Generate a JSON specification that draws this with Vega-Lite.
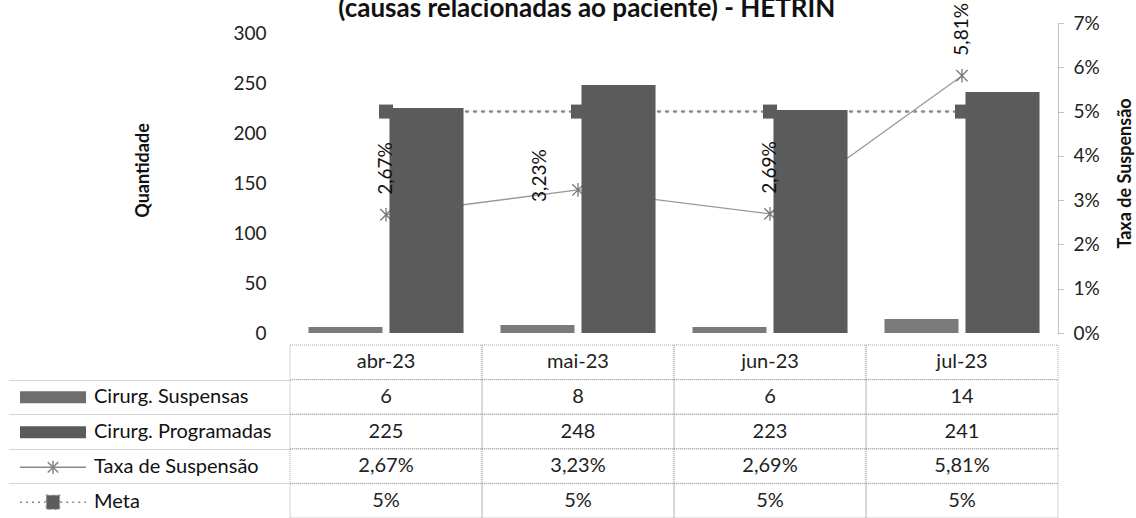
{
  "$schema": "https://vega.github.io/schema/vega-lite/v6.json",
  "autosize": {"type": "none"},
  "width": 768,
  "height": 495,
  "padding": {"left": 290, "top": 23, "right": 78, "bottom": 0},
  "background": "white",
  "title": {
    "text": "(causas relacionadas ao paciente) - HETRIN",
    "anchor": "middle",
    "frame": "bounds",
    "font": "Lato",
    "fontSize": 26,
    "fontWeight": "bold",
    "color": "#111111",
    "offset": -40,
    "dx": 16,
    "baseline": "alphabetic"
  },
  "data": {
    "values": [
      {"mes": "abr-23", "suspensas": 6, "programadas": 225, "taxa": 0.0267, "meta": 0.05},
      {"mes": "mai-23", "suspensas": 8, "programadas": 248, "taxa": 0.0323, "meta": 0.05},
      {"mes": "jun-23", "suspensas": 6, "programadas": 223, "taxa": 0.0269, "meta": 0.05},
      {"mes": "jul-23", "suspensas": 14, "programadas": 241, "taxa": 0.0581, "meta": 0.05}
    ]
  },
  "encoding": {
    "x": {
      "field": "mes",
      "type": "nominal",
      "sort": null,
      "scale": {"domain": ["abr-23", "mai-23", "jun-23", "jul-23"], "paddingInner": 0, "paddingOuter": 0},
      "axis": null
    }
  },
  "layer": [
    {
      "layer": [
        {
          "mark": {"type": "line", "color": "#8c8c8c", "strokeWidth": 2.5, "strokeDash": [2, 6], "strokeCap": "round"},
          "encoding": {
            "y": {
              "field": "meta",
              "type": "quantitative",
              "scale": {"domain": [0, 0.07], "range": [310, 0], "nice": false, "zero": true},
              "axis": {
                "orient": "right",
                "values": [0, 0.01, 0.02, 0.03, 0.04, 0.05, 0.06, 0.07],
                "format": ".0%",
                "title": "Taxa de Suspensão",
                "titleFont": "Lato",
                "titleFontSize": 18,
                "titleFontWeight": "bold",
                "titleColor": "#111111",
                "titleAngle": 270,
                "titleX": 67,
                "titleY": 150,
                "titleAlign": "center",
                "titleBaseline": "middle",
                "labelFont": "Lato",
                "labelFontSize": 19,
                "labelColor": "#222222",
                "labelPadding": 10,
                "labelFlush": false,
                "labelOverlap": false,
                "tickSize": 5,
                "tickColor": "#888888",
                "tickDash": [1, 1],
                "domainColor": "#888888",
                "domainDash": [1, 1],
                "grid": false
              }
            }
          }
        },
        {
          "mark": {"type": "point", "shape": "square", "filled": true, "size": 196, "color": "#5c5c5c", "opacity": 1},
          "encoding": {"y": {"field": "meta", "type": "quantitative"}}
        }
      ]
    },
    {
      "layer": [
        {
          "mark": {"type": "line", "color": "#9a9a9a", "strokeWidth": 1.3},
          "encoding": {
            "y": {
              "field": "taxa",
              "type": "quantitative",
              "scale": {"domain": [0, 0.07], "range": [310, 0], "nice": false, "zero": true},
              "axis": null
            }
          }
        },
        {
          "mark": {"type": "point", "shape": "M-1,-1L1,1M-1,1L1,-1M0,-1.2L0,1.2", "filled": false, "size": 130, "color": "#777777", "strokeWidth": 1.3, "opacity": 1},
          "encoding": {"y": {"field": "taxa", "type": "quantitative"}}
        }
      ]
    },
    {
      "transform": [{"fold": ["suspensas", "programadas"], "as": ["serie", "valor"]}],
      "mark": {"type": "bar"},
      "encoding": {
        "xOffset": {
          "field": "serie",
          "type": "nominal",
          "scale": {"domain": ["suspensas", "programadas"], "paddingInner": 0.086, "paddingOuter": 0.228}
        },
        "y": {
          "field": "valor",
          "type": "quantitative",
          "stack": null,
          "scale": {"domain": [0, 310], "range": [310, 0], "nice": false, "zero": true},
          "axis": {
            "orient": "left",
            "values": [0, 50, 100, 150, 200, 250, 300],
            "title": "Quantidade",
            "titleFont": "Lato",
            "titleFontSize": 18,
            "titleFontWeight": "bold",
            "titleColor": "#111111",
            "titleAngle": 270,
            "titleX": -147,
            "titleY": 147,
            "titleAlign": "center",
            "titleBaseline": "middle",
            "labelFont": "Lato",
            "labelFontSize": 19,
            "labelColor": "#222222",
            "labelPadding": 24,
            "labelFlush": false,
            "labelOverlap": false,
            "domain": false,
            "ticks": false,
            "grid": false
          }
        },
        "color": {
          "field": "serie",
          "type": "nominal",
          "scale": {"domain": ["suspensas", "programadas"], "range": ["#7b7b7b", "#5b5b5b"]},
          "legend": null
        }
      }
    },
    {
      "layer": [
        {
          "transform": [{"filter": "datum.mes != 'mai-23'"}],
          "mark": {"type": "text", "angle": 270, "align": "left", "baseline": "middle", "dx": 20, "fontSize": 19, "font": "Lato", "color": "#111111"},
          "encoding": {
            "y": {
              "field": "taxa",
              "type": "quantitative",
              "scale": {"domain": [0, 0.07], "range": [310, 0], "nice": false, "zero": true},
              "axis": null
            },
            "text": {"field": "taxa", "type": "quantitative", "format": ".2%"}
          }
        },
        {
          "transform": [{"filter": "datum.mes == 'mai-23'"}],
          "mark": {"type": "text", "angle": 270, "align": "left", "baseline": "middle", "dx": -12, "dy": -38, "fontSize": 19, "font": "Lato", "color": "#111111"},
          "encoding": {
            "y": {"field": "taxa", "type": "quantitative"},
            "text": {"field": "taxa", "type": "quantitative", "format": ".2%"}
          }
        }
      ]
    },
    {
      "layer": [
        {
          "mark": {"type": "rect", "fill": "transparent", "stroke": "#a8a8a8", "strokeDash": [1, 1], "strokeWidth": 1},
          "encoding": {
            "y": {
              "datum": "mes",
              "type": "nominal",
              "scale": {"domain": ["mes", "suspensas", "programadas", "taxa", "meta"], "range": [322, 495], "paddingInner": 0, "paddingOuter": 0},
              "axis": {
                "orient": "left",
                "values": ["suspensas", "programadas", "taxa", "meta"],
                "labels": false,
                "domain": false,
                "title": null,
                "ticks": true,
                "tickSize": 282,
                "tickBand": "extent",
                "tickColor": "#aaaaaa",
                "tickDash": [1, 1],
                "grid": false
              }
            }
          }
        },
        {
          "mark": {"type": "text", "fontSize": 20, "font": "Lato", "color": "#222222"},
          "encoding": {
            "y": {"datum": "mes", "type": "nominal"},
            "text": {"field": "mes", "type": "nominal"}
          }
        },
        {
          "transform": [{"fold": ["suspensas", "programadas", "taxa", "meta"], "as": ["serie", "valor"]}],
          "layer": [
            {
              "mark": {"type": "rect", "fill": "transparent", "stroke": "#a8a8a8", "strokeDash": [1, 1], "strokeWidth": 1},
              "encoding": {
                "y": {"field": "serie", "type": "nominal"}
              }
            },
            {
              "mark": {"type": "point", "filled": true, "opacity": 0},
              "encoding": {
                "y": {"field": "serie", "type": "nominal"},
                "fill": {
                  "field": "serie",
                  "type": "nominal",
                  "scale": {"domain": ["suspensas", "programadas", "taxa", "meta"], "range": ["#6e6e6e", "#5b5b5b", "transparent", "#5c5c5c"]},
                  "legend": {
                    "orient": "none",
                    "legendX": -271,
                    "legendY": 357,
                    "title": null,
                    "direction": "vertical",
                    "clipHeight": 34.6,
                    "rowPadding": 0,
                    "padding": 0,
                    "labelOffset": 7,
                    "labelFont": "Lato",
                    "labelFontSize": 20,
                    "labelColor": "#111111",
                    "labelLimit": 300,
                    "symbolSize": 4356,
                    "symbolOpacity": 1,
                    "symbolStrokeWidth": 1.5,
                    "symbolType": {"expr": "datum.value === 'taxa' ? 'M-1,0H1M-0.16,-0.16L0.16,0.16M-0.16,0.16L0.16,-0.16M0,-0.2L0,0.2' : datum.value === 'meta' ? 'M-1,0H-0.22M0.22,0H1M-0.2,-0.21H0.2V0.21H-0.2Z' : 'M-1,-0.18H1V0.18H-1Z'"},
                    "symbolStrokeColor": {"expr": "datum.value === 'taxa' || datum.value === 'meta' ? '#888888' : 'transparent'"},
                    "symbolDash": {"expr": "datum.value === 'meta' ? [2, 4] : [1, 0]"},
                    "labelExpr": "{'suspensas': 'Cirurg. Suspensas', 'programadas': 'Cirurg. Programadas', 'taxa': 'Taxa de Suspensão', 'meta': 'Meta'}[datum.value]"
                  }
                }
              }
            },
            {
              "transform": [{"filter": "datum.serie == 'suspensas' || datum.serie == 'programadas'"}],
              "mark": {"type": "text", "fontSize": 20, "font": "Lato", "color": "#222222"},
              "encoding": {
                "y": {"field": "serie", "type": "nominal"},
                "text": {"field": "valor", "type": "quantitative", "format": "d"}
              }
            },
            {
              "transform": [{"filter": "datum.serie == 'taxa'"}],
              "mark": {"type": "text", "fontSize": 20, "font": "Lato", "color": "#222222"},
              "encoding": {
                "y": {"field": "serie", "type": "nominal"},
                "text": {"field": "valor", "type": "quantitative", "format": ".2%"}
              }
            },
            {
              "transform": [{"filter": "datum.serie == 'meta'"}],
              "mark": {"type": "text", "fontSize": 20, "font": "Lato", "color": "#222222"},
              "encoding": {
                "y": {"field": "serie", "type": "nominal"},
                "text": {"field": "valor", "type": "quantitative", "format": ".0%"}
              }
            }
          ]
        }
      ]
    }
  ],
  "resolve": {"scale": {"y": "independent"}, "axis": {"y": "independent"}},
  "config": {
    "view": {"stroke": null},
    "font": "Lato",
    "locale": {"number": {"decimal": ",", "thousands": ".", "grouping": [3], "currency": ["R$", ""]}}
  }
}
